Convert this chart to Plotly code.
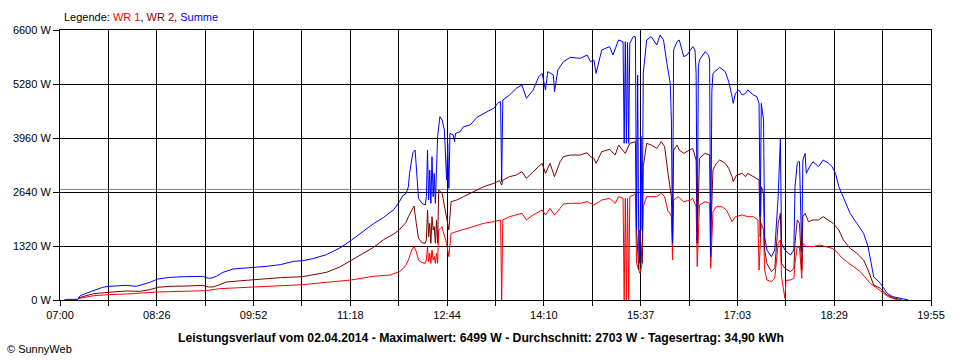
import plotly.graph_objects as go

# ---------------- data ----------------
tick_labels = ["07:00", "08:26", "09:52", "11:18", "12:44", "14:10", "15:37", "17:03", "18:29", "19:55"]
y_ticks = [0, 1320, 2640, 3960, 5280, 6600]
average_w = 2703

t_wr1 = ["07:16", "07:24", "07:30", "07:43", "07:59", "08:27", "09:10", "09:22", "09:53", "10:36", "10:57", "11:19",
         "11:39", "11:54", "11:57", "12:02", "12:07", "12:10", "12:13", "12:15", "12:17", "12:19", "12:22", "12:25",
         "12:26", "12:27", "12:28", "12:29", "12:30", "12:31", "12:32", "12:33", "12:34", "12:35", "12:36", "12:37",
         "12:40", "12:41", "12:44", "12:46", "12:48", "12:53", "12:59", "13:08", "13:17", "13:26", "13:31", "13:32",
         "13:33", "13:34", "13:40", "13:46", "13:51", "13:55", "14:01", "14:09", "14:12", "14:16", "14:20", "14:25",
         "14:28", "14:34", "14:43", "14:49", "14:55", "15:02", "15:09", "15:14", "15:17", "15:21", "15:22", "15:23",
         "15:24", "15:25", "15:26", "15:27", "15:30", "15:32", "15:33", "15:35", "15:36", "15:38", "15:39", "15:42",
         "15:51", "15:55", "15:58", "16:01", "16:03", "16:04", "16:05", "16:06", "16:10", "16:15", "16:21", "16:23",
         "16:26", "16:27", "16:29", "16:34", "16:38", "16:39", "16:41", "16:44", "16:49", "16:53", "16:58", "17:01",
         "17:07", "17:12", "17:17", "17:21", "17:22", "17:24", "17:26", "17:27", "17:29", "17:33", "17:36", "17:39",
         "17:41", "17:42", "17:45", "17:46", "17:50", "17:53", "17:54", "17:56", "17:58", "18:00", "18:01", "18:04",
         "18:10", "18:16", "18:22", "18:27", "18:31", "18:36", "18:40", "18:46", "18:52", "18:56", "19:01", "19:07",
         "19:13", "19:17", "19:21", "19:24", "19:26"]
wr1 = [33, 65, 106, 130, 147, 196, 228, 277, 318, 375, 432, 489,
       579, 611, 644, 693, 815, 978, 1222, 1304, 1181, 978, 913, 896,
       978, 1304, 937, 1141, 896, 1222, 978, 1059, 896, 1141, 896, 1711,
       1793, 1670, 1385, 1059, 1630, 1670, 1711, 1793, 1874, 1915, 1956, 1956,
       0, 1956, 2037, 2078, 2118, 1956, 2078, 2200, 2078, 2241, 2078, 2241,
       2347, 2363, 2363, 2404, 2322, 2444, 2485, 2363, 2526, 2485, 0, 2485,
       0, 2485, 0, 2526, 2560, 2607, 896, 733, 652, 896, 2281, 2526,
       2526, 2607, 2526, 2159, 2118, 2037, 978, 2444, 2526, 2404, 2444, 2485,
       2281, 815, 2322, 2404, 2363, 774, 2159, 2281, 2281, 2200, 1915, 2037,
       2078, 2037, 2037, 1956, 733, 1874, 1711, 733, 489, 448, 530, 1385,
       1467, 570, 41, 480, 489, 530, 896, 1304, 1280, 530, 1385, 1304,
       1304, 1344, 1304, 1263, 1181, 1018, 937, 815, 693, 570, 407, 285,
       163, 81, 41, 16, 0]

t_wr2 = ["07:16", "07:24", "07:30", "07:43", "07:59", "08:11", "08:20", "08:27", "08:38", "08:53", "09:07", "09:12",
         "09:16", "09:22", "09:28", "09:46", "09:53", "10:16", "10:36", "10:45", "10:57", "11:09", "11:19", "11:27",
         "11:39", "11:48", "11:57", "12:02", "12:08", "12:10", "12:13", "12:15", "12:17", "12:19", "12:22", "12:25",
         "12:26", "12:27", "12:28", "12:29", "12:30", "12:31", "12:32", "12:33", "12:34", "12:35", "12:36", "12:37",
         "12:40", "12:41", "12:44", "12:46", "12:48", "12:53", "12:59", "13:08", "13:17", "13:26", "13:31", "13:33",
         "13:34", "13:40", "13:46", "13:51", "13:55", "14:01", "14:09", "14:12", "14:16", "14:20", "14:25", "14:28",
         "14:34", "14:43", "14:49", "14:52", "14:55", "14:57", "15:02", "15:09", "15:14", "15:17", "15:23", "15:27",
         "15:32", "15:33", "15:35", "15:36", "15:38", "15:39", "15:42", "15:46", "15:51", "15:55", "15:58", "16:01",
         "16:04", "16:05", "16:06", "16:09", "16:11", "16:15", "16:21", "16:23", "16:26", "16:27", "16:29", "16:34",
         "16:38", "16:39", "16:41", "16:44", "16:47", "16:52", "16:55", "16:58", "16:59", "17:02", "17:07", "17:10",
         "17:12", "17:17", "17:20", "17:22", "17:23", "17:24", "17:26", "17:27", "17:29", "17:33", "17:36", "17:39",
         "17:41", "17:42", "17:45", "17:50", "17:53", "17:54", "17:56", "17:58", "18:00", "18:01", "18:03", "18:06",
         "18:10", "18:15", "18:19", "18:24", "18:28", "18:33", "18:37", "18:43", "18:49", "18:55", "18:59", "19:04",
         "19:10", "19:16", "19:21", "19:27", "19:29"]
wr2 = [49, 114, 155, 187, 220, 212, 253, 310, 334, 342, 358, 318,
       318, 375, 440, 481, 497, 546, 570, 611, 676, 807, 970, 1084,
       1287, 1475, 1613, 1719, 1900, 2037, 2200, 2298, 1874, 1507, 1401, 1385,
       1467, 2200, 1548, 1874, 1385, 2037, 1711, 1793, 1385, 1956, 1385, 2689,
       2607, 2444, 2037, 1711, 2404, 2444, 2526, 2648, 2770, 2852, 2917, 2811,
       2930, 3015, 3055, 3137, 2974, 3137, 3341, 3096, 3341, 3015, 3381, 3504,
       3544, 3544, 3601, 3504, 3463, 3341, 3626, 3683, 3544, 3789, 3585, 3830,
       3870, 1711, 733, 1711, 896, 3259, 3830, 3789, 3707, 3870, 3748, 3096,
       2526, 1467, 3667, 3789, 3667, 3585, 3667, 3707, 3422, 1467, 3463, 3585,
       3544, 1548, 3178, 3341, 3422, 3341, 3218, 3015, 2893, 3055, 3096, 3015,
       3096, 3015, 2974, 2933, 1548, 2770, 2607, 1222, 896, 693, 774, 1874,
       2118, 896, 774, 693, 774, 1385, 1956, 1874, 733, 2037, 2118, 1915,
       1956, 1956, 2037, 1956, 1874, 1711, 1467, 1263, 1141, 978, 733, 367,
       285, 122, 57, 16, 0]

t_sum = ["07:04", "07:06", "07:16", "07:18", "07:28", "07:38", "07:43", "07:59", "08:08", "08:20", "08:27", "08:38",
         "08:50", "09:02", "09:07", "09:12", "09:15", "09:19", "09:25", "09:34", "09:46", "09:53", "10:04", "10:16",
         "10:28", "10:36", "10:45", "10:57", "11:09", "11:19", "11:27", "11:39", "11:48", "11:54", "11:57", "12:02",
         "12:05", "12:08", "12:10", "12:11", "12:13", "12:14", "12:16", "12:17", "12:18", "12:19", "12:22", "12:25",
         "12:26", "12:27", "12:28", "12:29", "12:30", "12:31", "12:32", "12:33", "12:34", "12:35", "12:36", "12:38",
         "12:40", "12:42", "12:44", "12:45", "12:46", "12:47", "12:50", "12:51", "12:52", "12:56", "12:59", "13:05",
         "13:11", "13:20", "13:26", "13:30", "13:32", "13:33", "13:34", "13:40", "13:46", "13:51", "13:55", "14:01",
         "14:06", "14:09", "14:12", "14:14", "14:19", "14:20", "14:23", "14:28", "14:34", "14:43", "14:49", "14:52",
         "14:55", "14:57", "15:02", "15:09", "15:12", "15:17", "15:21", "15:22", "15:23", "15:24", "15:25", "15:26",
         "15:27", "15:30", "15:32", "15:33", "15:34", "15:35", "15:36", "15:37", "15:38", "15:39", "15:42", "15:46",
         "15:51", "15:54", "15:57", "16:00", "16:03", "16:04", "16:05", "16:06", "16:09", "16:11", "16:15", "16:18",
         "16:21", "16:23", "16:25", "16:26", "16:27", "16:28", "16:29", "16:34", "16:37", "16:38", "16:39", "16:40",
         "16:41", "16:44", "16:47", "16:52", "16:55", "16:58", "16:59", "17:01", "17:04", "17:07", "17:10", "17:12",
         "17:17", "17:20", "17:22", "17:23", "17:24", "17:26", "17:27", "17:29", "17:33", "17:36", "17:39", "17:41",
         "17:42", "17:45", "17:50", "17:53", "17:54", "17:56", "17:57", "17:58", "18:00", "18:01", "18:03", "18:04",
         "18:07", "18:10", "18:15", "18:19", "18:24", "18:27", "18:30", "18:33", "18:37", "18:43", "18:49", "18:55",
         "18:59", "19:04", "19:10", "19:16", "19:21", "19:27", "19:33", "19:35"]
summe = [10, 16, 16, 106, 212, 310, 334, 358, 334, 432, 513, 554,
         570, 587, 578, 530, 538, 578, 676, 758, 782, 807, 823, 864,
         945, 961, 1010, 1108, 1271, 1458, 1621, 1866, 2021, 2159, 2208, 2404,
         2550, 2607, 2770, 3096, 3463, 3601, 3667, 3341, 3015, 2485, 2363, 2322,
         2526, 3667, 2444, 3178, 2363, 3504, 2526, 3096, 2363, 3259, 3993, 4481,
         4400, 4155, 2933, 3830, 2730, 4074, 4033, 3870, 4074, 4115, 4237, 4278,
         4465, 4604, 4685, 4824, 4848, 2893, 4889, 5011, 5174, 5255, 4930, 5133,
         5459, 5541, 5133, 5581, 5500, 5092, 5622, 5826, 5932, 5908, 5989, 5826,
         5867, 5541, 6111, 6193, 5989, 6355, 6315, 3830, 6315, 3830, 6300, 3830,
         6274, 6437, 6437, 1711, 5500, 1200, 900, 4000, 1700, 5541, 6355, 6437,
         6233, 6478, 6355, 5785, 5296, 4400, 1385, 6111, 6315, 6355, 5948, 5989,
         6111, 6193, 6111, 5541, 1385, 5704, 5867, 6070, 5989, 5867, 1059, 5100,
         5541, 5622, 5687, 5581, 5337, 4970, 4807, 5052, 5133, 5011, 5052, 5133,
         5011, 4970, 4807, 2037, 4807, 4400, 1548, 1222, 1059, 1222, 2526, 3952,
         1385, 1222, 1100, 1222, 2770, 3341, 3381, 3381, 1181, 3422, 3585, 3096,
         3259, 3381, 3259, 3422, 3341, 3259, 3096, 2770, 2526, 2118, 1874, 1630,
         1304, 570, 407, 163, 81, 41, 16, 0]


def to_min(times):
    return [int(t[:2]) * 60 + int(t[3:]) for t in times]


x_start, x_end = 7 * 60, 19 * 60 + 55
n_grid = 2 * (len(tick_labels) - 1)
grid_vals = [x_start + k * (x_end - x_start) / n_grid for k in range(n_grid + 1)]
grid_text = [tick_labels[k // 2] if k % 2 == 0 else "" for k in range(n_grid + 1)]

fig = go.Figure()
fig.add_trace(go.Scatter(x=to_min(t_wr1), y=wr1, mode="lines", name="WR 1",
                         line=dict(color="#ff0000", width=1)))
fig.add_trace(go.Scatter(x=to_min(t_wr2), y=wr2, mode="lines", name="WR 2",
                         line=dict(color="#800000", width=1)))
fig.add_trace(go.Scatter(x=to_min(t_sum), y=summe, mode="lines", name="Summe",
                         line=dict(color="#0000ff", width=1)))

fig.add_shape(type="line", xref="paper", x0=0, x1=1, yref="y", y0=average_w, y1=average_w,
              line=dict(color="#808080", width=1), layer="below")

font = "Liberation Sans, Arial, sans-serif"
fig.update_layout(
    width=960, height=360,
    margin=dict(l=60, r=29, t=30, b=60),
    paper_bgcolor="white", plot_bgcolor="white",
    showlegend=False,
    font=dict(family=font, size=11, color="black"),
    xaxis=dict(range=[x_start, x_end], tickmode="array", tickvals=grid_vals, ticktext=grid_text,
               showgrid=True, gridcolor="black", gridwidth=1, zeroline=False,
               showline=True, linecolor="black", linewidth=1, mirror=True,
               ticks="outside", ticklen=5, tickcolor="black", tickfont=dict(size=11)),
    yaxis=dict(range=[0, 6600], tickmode="array", tickvals=y_ticks,
               ticktext=[f"{v} W" for v in y_ticks],
               showgrid=True, gridcolor="black", gridwidth=1, zeroline=False,
               showline=True, linecolor="black", linewidth=1, mirror=True,
               ticks="outside", ticklen=6, tickcolor="black", tickfont=dict(size=11)),
    annotations=[
        dict(xref="paper", yref="paper", x=0.002, y=1.0, yshift=5, xanchor="left", yanchor="bottom",
             showarrow=False, font=dict(size=11),
             text="Legende: <span style='color:#ff0000'>WR 1</span>, "
                  "<span style='color:#800000'>WR 2</span>, "
                  "<span style='color:#0000ff'>Summe</span>"),
        dict(xref="paper", yref="paper", x=0.4835, y=0, yshift=-29, xanchor="center", yanchor="top",
             showarrow=False, font=dict(size=12.2),
             text="<b>Leistungsverlauf vom 02.04.2014 - Maximalwert: 6499 W - Durchschnitt: 2703 W - "
                  "Tagesertrag: 34,90 kWh</b>"),
        dict(xref="paper", yref="paper", x=-0.063, y=0, yshift=-41, xanchor="left", yanchor="top",
             showarrow=False, font=dict(size=11), text="© SunnyWeb"),
    ],
)

fig.write_html("out.html", config={"displayModeBar": False},
               post_script="document.body.style.margin='0';")
